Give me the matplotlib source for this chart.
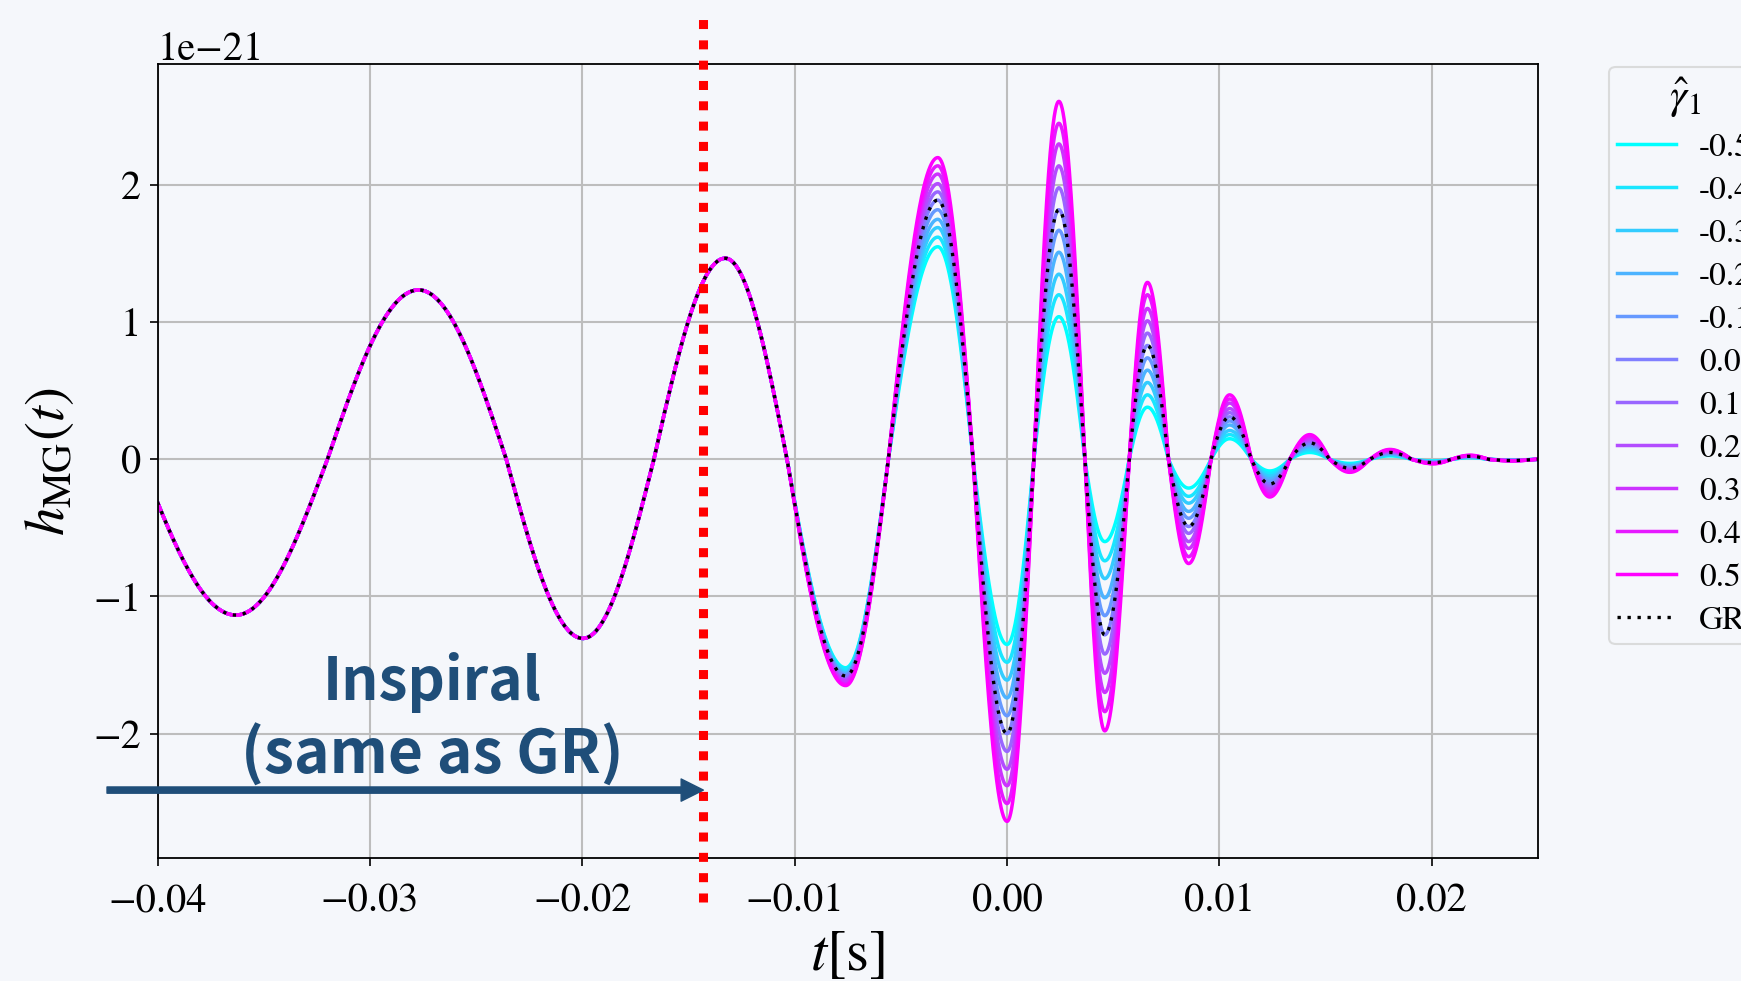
import numpy as np
import matplotlib.pyplot as plt

plt.rcParams['font.family'] = 'STIXGeneral'
plt.rcParams['mathtext.fontset'] = 'stix'

BG = '#f5f7fb'

gammas = [-0.5, -0.4, -0.3, -0.2, -0.1, 0.0, 0.1, 0.2, 0.3, 0.4, 0.5]
gamma_labels = ['-0.5', '-0.4', '-0.3', '-0.2', '-0.1', '0.0', '0.1', '0.2', '0.3', '0.4', '0.5']

# zero crossings of h(t) [s], common to every curve
t_zero = [-0.0408, -0.0320, -0.02358, -0.01663, -0.01036, -0.00559, -0.0016,
          0.00126, 0.00366, 0.00575, 0.0076, 0.0096, 0.0115, 0.01331,
          0.01519, 0.01708, 0.01905, 0.02093, 0.02266, 0.0249]
# turning points [s], one between each pair of zero crossings
t_peak = [-0.03632, -0.02771, -0.01997, -0.01327,
          -0.0076, -0.00326, 0.0, 0.00244, 0.0046, 0.00661, 0.00855,
          0.01048, 0.01237, 0.01425, 0.01614, 0.01803, 0.02007, 0.0218, 0.02376]
t_end = 0.025

# inspiral turning points [1e-21], identical for all gamma
h_inspiral = [-1.136, 1.235, -1.306, 1.466]

# merger / ringdown turning points [1e-21]: one row per peak, one column per gamma
h_ringdown = [
    [-1.52, -1.53, -1.55, -1.56, -1.57, -1.58, -1.60, -1.61, -1.62, -1.64, -1.65],
    [1.55, 1.62, 1.69, 1.75, 1.82, 1.89, 1.95, 2.01, 2.08, 2.14, 2.20],
    [-1.35, -1.48, -1.61, -1.74, -1.87, -2.00, -2.13, -2.26, -2.38, -2.51, -2.64],
    [1.04, 1.20, 1.35, 1.51, 1.67, 1.82, 1.98, 2.14, 2.30, 2.45, 2.61],
    [-0.60, -0.74, -0.87, -1.01, -1.14, -1.28, -1.42, -1.56, -1.70, -1.84, -1.98],
    [0.38, 0.47, 0.56, 0.65, 0.74, 0.83, 0.92, 1.01, 1.10, 1.20, 1.29],
    [-0.21, -0.27, -0.32, -0.38, -0.43, -0.49, -0.54, -0.60, -0.65, -0.71, -0.76],
    [0.15, 0.18, 0.21, 0.25, 0.28, 0.31, 0.34, 0.37, 0.41, 0.44, 0.47],
    [-0.085, -0.104, -0.123, -0.142, -0.161, -0.18, -0.199, -0.218, -0.237, -0.256, -0.275],
    [0.050, 0.064, 0.078, 0.092, 0.106, 0.12, 0.132, 0.144, 0.156, 0.168, 0.18],
    [-0.030, -0.037, -0.044, -0.051, -0.058, -0.065, -0.071, -0.077, -0.083, -0.089, -0.095],
    [0.025, 0.030, 0.035, 0.040, 0.045, 0.050, 0.054, 0.059, 0.063, 0.068, 0.072],
    [-0.012, -0.014, -0.017, -0.019, -0.022, -0.024, -0.026, -0.028, -0.029, -0.031, -0.033],
    [0.012, 0.014, 0.016, 0.018, 0.020, 0.022, 0.024, 0.025, 0.027, 0.028, 0.030],
    [-0.005, -0.006, -0.006, -0.007, -0.008, -0.009, -0.009, -0.010, -0.011, -0.011, -0.012],
]

# GR turning points in the merger / ringdown [1e-21]
h_gr_ringdown = [-1.58, 1.89, -2.00, 1.82, -1.28, 0.83, -0.49, 0.31, -0.18,
                 0.12, -0.065, 0.05, -0.024, 0.022, -0.009]

t_cut = -0.0143   # end of inspiral


def waveform(peaks, n=120):
    """Quarter-wave segments zero -> turning point -> zero."""
    ts, hs = [], []
    s = np.linspace(0.0, 1.0, n)
    for k, (tp, hp) in enumerate(zip(t_peak, peaks)):
        z0, z1 = t_zero[k], t_zero[k + 1]
        ts.append(z0 + (tp - z0) * s)
        hs.append(hp * np.sin(0.5 * np.pi * s))
        ts.append(tp + (z1 - tp) * s)
        hs.append(hp * np.cos(0.5 * np.pi * s))
    ts.append(np.array([t_zero[-1], t_end]))
    hs.append(np.zeros(2))
    return np.concatenate(ts), np.concatenate(hs) * 1e-21


fig = plt.figure(figsize=(17.41, 9.81), dpi=100, facecolor=BG)
ax = fig.add_axes([0.0905, 0.125, 0.7929, 0.8094], facecolor=BG)

colors = plt.cm.cool(np.linspace(0, 1, len(gammas)))
handles = []
for i, g in enumerate(gammas):
    peaks = h_inspiral + [row[i] for row in h_ringdown]
    t, h = waveform(peaks)
    ln, = ax.plot(t, h, color=colors[i], lw=2.5, label=gamma_labels[i])
    handles.append(ln)

t, h = waveform(h_inspiral + h_gr_ringdown)
gr, = ax.plot(t, h, color='k', lw=2.4, linestyle=(0, (1, 2.0)), label='GR', zorder=5)
handles.append(gr)

ax.set_xlim(-0.04, t_end)
ax.set_ylim(-2.91e-21, 2.88e-21)
ax.set_xticks([-0.04, -0.03, -0.02, -0.01, 0.0, 0.01, 0.02])
ax.set_yticks([-2e-21, -1e-21, 0, 1e-21, 2e-21])
ax.grid(True, color='#bdbdbd', lw=1.5)
ax.set_axisbelow(True)
ax.tick_params(labelsize=29, length=6, width=1.2)
ax.tick_params(axis='x', pad=12)
ax.tick_params(axis='y', pad=6)
ax.yaxis.get_offset_text().set_fontsize(29)
for sp in ax.spines.values():
    sp.set_linewidth(1.3)

ax.set_xlabel(r'$t[\mathrm{s}]$', fontsize=42, labelpad=7)
ax.set_ylabel(r'$h_{\mathrm{MG}}(t)$', fontsize=41, labelpad=12)

leg = ax.legend(handles=handles, title=r'$\hat{\gamma}_1$', loc='upper left',
                bbox_to_anchor=(1.0515, 0.997), borderaxespad=0, fontsize=24,
                title_fontsize=31, handlelength=1.75, handletextpad=0.7,
                labelspacing=0.38, borderpad=0.25, frameon=True, fancybox=True)
leg.get_frame().set_facecolor(BG)
leg.get_frame().set_edgecolor('#d4d4d4')
leg.get_frame().set_linewidth(1.5)

# boundary of the inspiral phase, running past the axes
ax.axvline(t_cut, ymin=-0.055, ymax=1.062, color='red', lw=6.5,
           linestyle=(0, (1, 1.25)), clip_on=False, zorder=6)

navy = '#1f4e79'
ax.annotate('', xy=(t_cut, -2.412e-21), xytext=(-0.04238, -2.412e-21),
            arrowprops=dict(width=4.5, headwidth=16, headlength=16,
                            facecolor=navy, edgecolor=navy, shrink=0),
            annotation_clip=False, zorder=7)
ax.text(-0.02707, -1.756e-21, 'Inspiral', ha='center', va='baseline',
        fontsize=42, color=navy, family='Noto Sans CJK JP', weight='bold')
ax.text(-0.02707, -2.290e-21, '(same as GR)', ha='center', va='baseline',
        fontsize=43.5, color=navy, family='Noto Sans CJK JP', weight='bold')

fig.savefig('out.png', dpi=100, facecolor=BG)
